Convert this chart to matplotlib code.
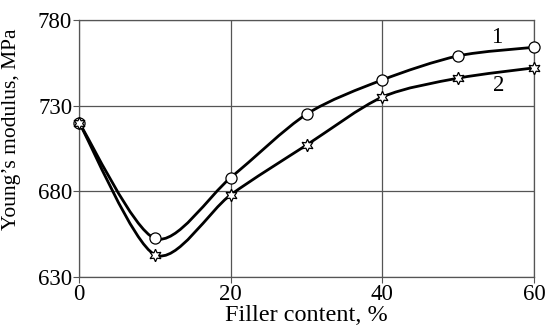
import numpy as np
import matplotlib
matplotlib.use('Agg')
import matplotlib.pyplot as plt
from matplotlib.path import Path
from matplotlib.patches import PathPatch

filler = [0, 10, 20, 30, 40, 50, 60]
modulus_1 = [720, 652.5, 688, 725, 745, 759, 764]
modulus_2 = [720, 643, 678, 707, 735, 746, 752]

plt.rcParams['font.family'] = ['Liberation Serif', 'DejaVu Serif']

def smooth_path(x, y, k=1/7):
    # Excel-like smoothed line: cubic Bezier segments (Catmull-Rom style)
    p = np.column_stack([x, y]).astype(float)
    n = len(p)
    verts = [p[0]]
    codes = [Path.MOVETO]
    for i in range(n - 1):
        p0 = p[i - 1] if i > 0 else p[i]
        p3 = p[i + 2] if i + 2 < n else p[i + 1]
        c1 = p[i] + (p[i + 1] - p0) * k
        c2 = p[i + 1] - (p3 - p[i]) * k
        verts += [c1, c2, p[i + 1]]
        codes += [Path.CURVE4] * 3
    return Path(verts, codes)

fig = plt.figure(figsize=(5.46, 3.31), dpi=100)
ax = fig.add_axes([0.145, 0.163, 0.833, 0.777])

for ys, mk, ms in [(modulus_1, 'o', 8), (modulus_2, (6, 1, 0), 9)]:
    ax.add_patch(PathPatch(smooth_path(filler, ys), fill=False, lw=2, ec='black', zorder=3))
    ax.plot(filler, ys, ls='none', marker=mk, ms=ms, mfc='white', mec='black', mew=0.9, zorder=4, clip_on=False)

ax.text(55.1, 770, '1', fontsize=16.5, ha='center', va='center')
ax.text(55.3, 742, '2', fontsize=16.5, ha='center', va='center')

ax.set_xlim(0, 60)
ax.set_ylim(630, 780)
ax.set_xticks([0, 20, 40, 60])
ax.set_yticks([630, 680, 730, 780])
ax.grid(True, color='#555555', lw=0.9)
ax.set_axisbelow(True)
for s in ax.spines.values():
    s.set_color('#555555')
    s.set_linewidth(0.9)
ax.tick_params(labelsize=16.5, length=4, color='#555555', pad=1)
ax.set_xlabel('Filler content, %', fontsize=17.5, labelpad=0)
ax.set_ylabel('Young\u2019s modulus, MPa', fontsize=15.5)
ax.yaxis.set_label_coords(-0.128, 0.575)

fig.savefig('out.png', dpi=100)
